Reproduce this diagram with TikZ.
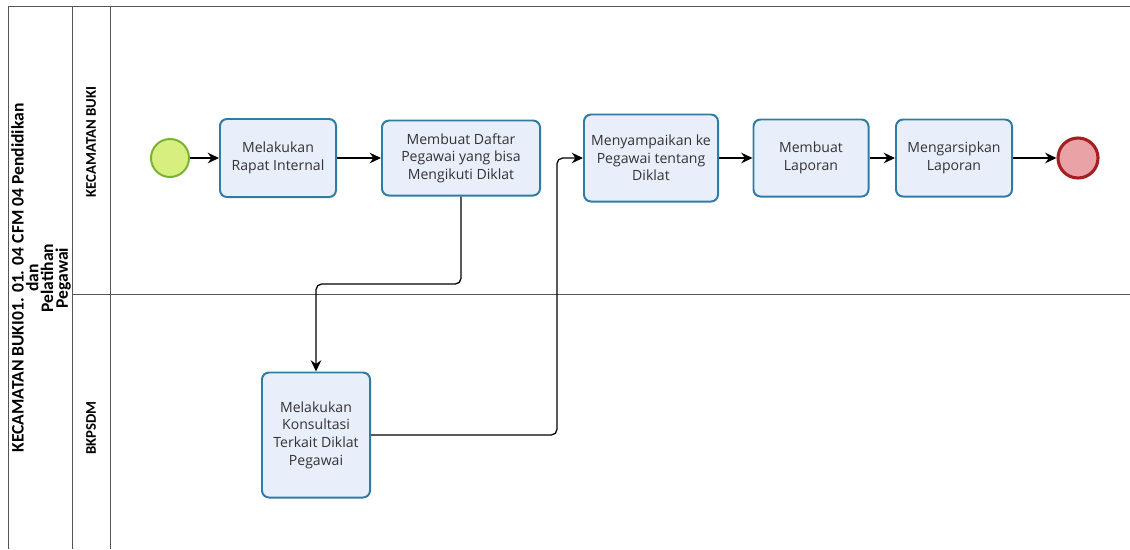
\documentclass[tikz,border=0pt]{standalone}
\usepackage{fontspec}
\setmainfont{Open Sans}
\newfontfamily\lanefont{Carlito}
\usetikzlibrary{arrows.meta}

\definecolor{taskfill}{HTML}{E9EEFB}
\definecolor{taskline}{HTML}{2F7CA3}
\definecolor{startfill}{HTML}{D6EF7E}
\definecolor{startline}{HTML}{78B330}
\definecolor{endfill}{HTML}{E9A3A6}
\definecolor{endline}{HTML}{A61E22}
\definecolor{poolline}{HTML}{555555}

\tikzset{
  task/.style={draw=taskline, fill=taskfill, line width=1.4pt, rounded corners=5pt,
    align=center, text=black!80, inner sep=2pt,
    font=\fontsize{10}{12.5}\selectfont},
  startevent/.style={circle, draw=startline, fill=startfill, line width=1.4pt,
    minimum size=0.95cm, inner sep=0pt},
  endevent/.style={circle, draw=endline, fill=endfill, line width=2.2pt,
    minimum size=1.0cm, inner sep=0pt},
  flow/.style={-{Stealth[length=8pt,width=7.5pt]}, line width=0.9pt, rounded corners=4pt},
  lane/.style={draw=poolline, line width=0.7pt},
  lanelabel/.style={rotate=90, font=\lanefont\bfseries\fontsize{10.5}{11}\selectfont, align=center},
  poollabel/.style={rotate=90, font=\lanefont\bfseries\fontsize{12.5}{10.5}\selectfont, align=center}
}

\begin{document}
\begin{tikzpicture}[x=0.025cm, y=-0.025cm]
        \useasboundingbox (0,0) rectangle (1130,549);
        \draw[lane] (1130,6) -- (8,6) -- (8,549);
        \draw[lane] (72,6) -- (72,549);
        \draw[lane] (110,6) -- (110,549);
        \draw[lane] (72,294) -- (1130,294);
        \node[poollabel] (pool) at (41,278)
          {KECAMATAN BUKI01. 01. 04 CFM 04 Pendidikan\\dan\\Pelatihan\\Pegawai};
        \node[lanelabel] (kec) at (91,142) {KECAMATAN BUKI};
        \node[lanelabel] (bkp) at (91,428) {BKPSDM};

        \node[startevent] (start) at (170,158) {};
        \node[task, minimum width=2.9cm, minimum height=1.95cm] (rapat) at (278,158)
          {Melakukan\\Rapat Internal};
        \node[task, minimum width=3.95cm, minimum height=1.875cm] (daftar) at (461,158)
          {Membuat Daftar\\Pegawai yang bisa\\Mengikuti Diklat};
        \node[task, minimum width=3.35cm, minimum height=2.175cm] (sampai) at (651,158)
          {Menyampaikan ke\\Pegawai tentang\\Diklat};
        \node[task, minimum width=2.875cm, minimum height=1.925cm] (laporan) at (811,158)
          {Membuat\\Laporan};
        \node[task, minimum width=2.9cm, minimum height=1.925cm] (arsip) at (954,158)
          {Mengarsipkan\\Laporan};
        \node[endevent] (end) at (1078,158) {};
        \node[task, minimum width=2.7cm, minimum height=3.125cm] (konsul) at (316,435)
          {Melakukan\\Konsultasi\\Terkait Diklat\\Pegawai};

        \coordinate (bend1) at (316,284);
        \coordinate (bend2) at (557,158);

        \draw[flow] (start) -- (rapat);
        \draw[flow] (rapat) -- (daftar);
        \draw[flow] (daftar.south) |- (bend1) -- (konsul.north);
        \draw[flow] (konsul.east) -| (bend2) -- (sampai.west);
        \draw[flow] (sampai) -- (laporan);
        \draw[flow] (laporan) -- (arsip);
        \draw[flow] (arsip) -- (end);
    \end{tikzpicture}
\end{document}
